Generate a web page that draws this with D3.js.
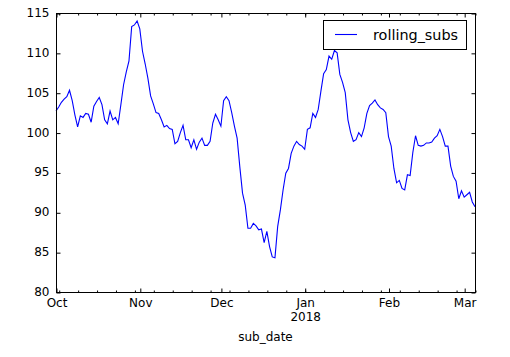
<!DOCTYPE html>
<html><head><meta charset="utf-8">
<script src="https://cdn.jsdelivr.net/npm/d3@7"></script>
<style>body{margin:0;background:#fff}svg{display:block}text{font-family:"DejaVu Sans",sans-serif}</style>
</head><body><svg id="c" width="510" height="357"></svg>
<script>
const startDate = "2017-10-01";
const endDate = "2018-03-05";
const seriesName = "rolling_subs";
const xLabel = "sub_date";
const yTicks = [80, 85, 90, 95, 100, 105, 110, 115];
const rollingSubs = [
102.7,103.2,103.8,104.2,104.5,105.3,104.0,102.2,100.7,102.1,
101.9,102.4,102.3,101.3,103.3,103.9,104.4,103.5,101.6,101.1,
102.7,101.6,101.9,101.1,103.5,106.0,107.6,109.0,113.3,113.5,
114.0,113.0,110.2,108.6,106.8,104.6,103.6,102.5,102.4,101.6,
100.7,100.9,100.5,100.4,98.6,98.9,100.0,100.9,99.1,99.1,
98.1,99.1,97.9,98.8,99.3,98.4,98.4,98.9,101.2,102.3,
101.6,100.8,104.0,104.5,104.0,102.5,100.8,99.3,95.7,92.4,
90.9,88.0,88.0,88.6,88.3,87.8,87.9,86.2,87.6,85.7,
84.4,84.3,88.2,90.3,92.8,94.9,95.5,97.4,98.3,98.9,
98.5,98.3,97.9,100.4,100.6,102.4,101.9,102.9,105.2,107.4,
107.9,109.6,109.2,110.3,110.0,107.3,106.3,105.0,101.6,100.0,
98.9,99.1,100.0,99.5,100.6,102.4,103.4,103.7,104.1,103.5,
103.1,102.9,102.5,99.5,98.3,95.5,93.7,94.0,93.0,92.8,
94.7,94.6,97.5,99.6,98.4,98.3,98.4,98.7,98.7,98.8,
99.3,99.6,100.4,99.5,98.3,98.3,95.8,94.5,93.9,91.7,
92.7,91.9,92.2,92.5,91.3,90.7
];

const L = 56, R = 475, T = 13, B = 292;
const svg = d3.select("#c");
const parse = d3.utcParse("%Y-%m-%d");
const t0 = parse(startDate), t1 = parse(endDate);
const dates = rollingSubs.map((v, i) => d3.utcDay.offset(t0, i));
const x = d3.scaleUtc().domain([t0, t1]).range([L, R]);
const y = d3.scaleLinear().domain([80, 115]).range([B, T]);

// line
svg.append("path")
  .datum(rollingSubs)
  .attr("fill", "none")
  .attr("stroke", "#0000ff")
  .attr("stroke-width", 1.1)
  .attr("d", d3.line().x((d, i) => x(dates[i])).y(d => y(d)));

const months = d3.utcMonth.range(t0, d3.utcDay.offset(t1, 1));
const mondays = d3.utcMonday.range(t0, d3.utcDay.offset(t1, 1));
const fmt = d3.utcFormat("%b");

function styleAxis(g) {
  g.select(".domain").remove();
  g.selectAll("line").attr("stroke", "#000");
  g.selectAll("text").attr("font-size", 12).attr("fill", "#000").attr("font-family", "DejaVu Sans");
}

// bottom major
const bx = svg.append("g").attr("transform", `translate(0.5,${B + 0.5})`)
  .call(d3.axisBottom(x).tickValues(months).tickFormat(fmt).tickSizeInner(-4).tickSizeOuter(0).tickPadding(5.5));
styleAxis(bx);
bx.selectAll(".tick text").each(function(d) {
  if (d.getUTCMonth() === 0) {
    const t = d3.select(this);
    t.append("tspan").attr("x", 0).attr("dy", "1.2em").text(d.getUTCFullYear());
  }
});
// bottom minor
const bm = svg.append("g").attr("transform", `translate(0.5,${B + 0.5})`)
  .call(d3.axisBottom(x).tickValues(mondays).tickFormat("").tickSizeInner(-2).tickSizeOuter(0));
styleAxis(bm);
// top major/minor
const tx = svg.append("g").attr("transform", `translate(0.5,${T + 0.5})`)
  .call(d3.axisTop(x).tickValues(months).tickFormat("").tickSizeInner(-4).tickSizeOuter(0));
styleAxis(tx);
const tm = svg.append("g").attr("transform", `translate(0.5,${T + 0.5})`)
  .call(d3.axisTop(x).tickValues(mondays).tickFormat("").tickSizeInner(-2).tickSizeOuter(0));
styleAxis(tm);

// left / right
const ly = svg.append("g").attr("transform", `translate(${L + 0.5},0.5)`)
  .call(d3.axisLeft(y).tickValues(yTicks).tickFormat(d3.format("d")).tickSizeInner(-4).tickSizeOuter(0).tickPadding(7));
styleAxis(ly);
ly.selectAll(".tick text").attr("dy", "0.25em");
const ry = svg.append("g").attr("transform", `translate(${R + 0.5},0.5)`)
  .call(d3.axisRight(y).tickValues(yTicks).tickFormat("").tickSizeInner(-4).tickSizeOuter(0));
styleAxis(ry);

// frame
svg.append("rect").attr("x", L + 0.5).attr("y", T + 0.5)
  .attr("width", R - L).attr("height", B - T)
  .attr("fill", "none").attr("stroke", "#000").attr("stroke-width", 1);

// x label
svg.append("text").attr("x", (L + R) / 2).attr("y", 341)
  .attr("text-anchor", "middle").attr("font-size", 12).text(xLabel);

// legend
const lg = svg.append("g");
lg.append("rect").attr("x", 323.5).attr("y", 20.5).attr("width", 143).attr("height", 29)
  .attr("fill", "#fff").attr("stroke", "#000").attr("stroke-width", 1);
lg.append("line").attr("x1", 335).attr("x2", 357).attr("y1", 34.5).attr("y2", 34.5)
  .attr("stroke", "#0000ff").attr("stroke-width", 1.1);
lg.append("text").attr("x", 373).attr("y", 39.5).attr("font-size", 14.4).text(seriesName);
</script></body></html>
